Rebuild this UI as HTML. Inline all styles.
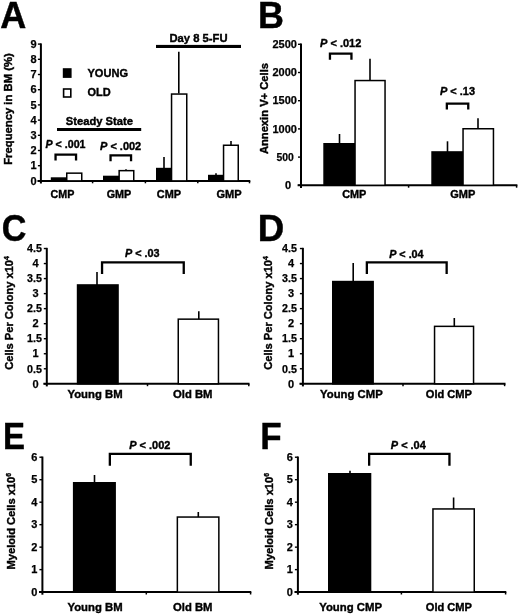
<!DOCTYPE html>
<html><head><meta charset="utf-8"><title>Figure</title>
<style>
html,body{margin:0;padding:0;background:#fff;}
body{width:520px;height:615px;overflow:hidden;}
svg{display:block;will-change:transform;}
text{font-family:"Liberation Sans",sans-serif;font-weight:bold;fill:#000;stroke:#000;stroke-width:0.4px;}
</style></head><body>
<svg width="520" height="615" viewBox="0 0 520 615">
<rect width="520" height="615" fill="#fff"/>

<g id="A">
<text transform="translate(0.302,28.100) scale(0.36071,0.36919)" font-size="100" style="stroke:#000;stroke-width:1.2px">A</text>
<line x1="40.9" y1="43.40000000000002" x2="40.9" y2="183.5" stroke="#000" stroke-width="2.0" stroke-linecap="butt"/>
<line x1="37.9" y1="180.9" x2="40.9" y2="180.9" stroke="#000" stroke-width="1.4" stroke-linecap="butt"/>
<text x="33.5" y="184.65" text-anchor="middle" font-size="11.0" style="stroke-width:0.25px">0</text>
<line x1="37.9" y1="165.70000000000002" x2="40.9" y2="165.70000000000002" stroke="#000" stroke-width="1.4" stroke-linecap="butt"/>
<text x="33.5" y="169.45" text-anchor="middle" font-size="11.0" style="stroke-width:0.25px">1</text>
<line x1="37.9" y1="150.5" x2="40.9" y2="150.5" stroke="#000" stroke-width="1.4" stroke-linecap="butt"/>
<text x="33.5" y="154.25" text-anchor="middle" font-size="11.0" style="stroke-width:0.25px">2</text>
<line x1="37.9" y1="135.3" x2="40.9" y2="135.3" stroke="#000" stroke-width="1.4" stroke-linecap="butt"/>
<text x="33.5" y="139.05" text-anchor="middle" font-size="11.0" style="stroke-width:0.25px">3</text>
<line x1="37.9" y1="120.10000000000001" x2="40.9" y2="120.10000000000001" stroke="#000" stroke-width="1.4" stroke-linecap="butt"/>
<text x="33.5" y="123.85" text-anchor="middle" font-size="11.0" style="stroke-width:0.25px">4</text>
<line x1="37.9" y1="104.9" x2="40.9" y2="104.9" stroke="#000" stroke-width="1.4" stroke-linecap="butt"/>
<text x="33.5" y="108.65" text-anchor="middle" font-size="11.0" style="stroke-width:0.25px">5</text>
<line x1="37.9" y1="89.70000000000002" x2="40.9" y2="89.70000000000002" stroke="#000" stroke-width="1.4" stroke-linecap="butt"/>
<text x="33.5" y="93.45" text-anchor="middle" font-size="11.0" style="stroke-width:0.25px">6</text>
<line x1="37.9" y1="74.50000000000001" x2="40.9" y2="74.50000000000001" stroke="#000" stroke-width="1.4" stroke-linecap="butt"/>
<text x="33.5" y="78.25" text-anchor="middle" font-size="11.0" style="stroke-width:0.25px">7</text>
<line x1="37.9" y1="59.30000000000001" x2="40.9" y2="59.30000000000001" stroke="#000" stroke-width="1.4" stroke-linecap="butt"/>
<text x="33.5" y="63.05" text-anchor="middle" font-size="11.0" style="stroke-width:0.25px">8</text>
<line x1="37.9" y1="44.10000000000002" x2="40.9" y2="44.10000000000002" stroke="#000" stroke-width="1.4" stroke-linecap="butt"/>
<text x="33.5" y="47.85" text-anchor="middle" font-size="11.0" style="stroke-width:0.25px">9</text>
<line x1="37.5" y1="180.9" x2="250.3" y2="180.9" stroke="#000" stroke-width="2.0" stroke-linecap="butt"/>
<line x1="92.6" y1="180.9" x2="92.6" y2="183.3" stroke="#000" stroke-width="1.5" stroke-linecap="butt"/>
<line x1="145.4" y1="180.9" x2="145.4" y2="183.3" stroke="#000" stroke-width="1.5" stroke-linecap="butt"/>
<line x1="197.8" y1="180.9" x2="197.8" y2="183.3" stroke="#000" stroke-width="1.5" stroke-linecap="butt"/>
<line x1="249.5" y1="180.9" x2="249.5" y2="183.3" stroke="#000" stroke-width="1.5" stroke-linecap="butt"/>
<text transform="translate(11.7,164.8) rotate(-90)" font-size="11.4" textLength="111.5" lengthAdjust="spacingAndGlyphs">Frequency in BM (%)</text>
<rect x="62.8" y="68.2" width="8.8" height="9.7" fill="#000"/>
<rect x="63.6" y="89.0" width="7.2" height="8.0" fill="#fff" stroke="#000" stroke-width="1.6"/>
<text x="87.5" y="76.8" text-anchor="start" font-size="11.4" textLength="40.5" lengthAdjust="spacingAndGlyphs" >YOUNG</text>
<text x="87.5" y="96.4" text-anchor="start" font-size="11.4" textLength="23.2" lengthAdjust="spacingAndGlyphs" >OLD</text>
<text x="65.8" y="125" text-anchor="start" font-size="11.4" textLength="67.2" lengthAdjust="spacingAndGlyphs" >Steady State</text>
<rect x="57" y="128" width="84.2" height="3" fill="#000"/>
<text x="45.5" y="147.6" font-size="11.4" textLength="40.0" lengthAdjust="spacingAndGlyphs"><tspan font-style="italic">P</tspan> &lt; .001</text>
<text x="100" y="149.8" font-size="11.4" textLength="41.19999999999999" lengthAdjust="spacingAndGlyphs"><tspan font-style="italic">P</tspan> &lt; .002</text>
<path d="M55.55 160.6 L55.55 154.65 L76.05 154.65 L76.05 160.6" fill="none" stroke="#000" stroke-width="2.3" stroke-linejoin="miter"/>
<path d="M110.55000000000001 161.3 L110.55000000000001 155.35 L131.04999999999998 155.35 L131.04999999999998 161.3" fill="none" stroke="#000" stroke-width="2.3" stroke-linejoin="miter"/>
<rect x="51.55" y="178.05" width="14.700000000000003" height="2.8499999999999943" fill="#000" stroke="#000" stroke-width="1.5"/>
<rect x="66.75" y="173.15" width="15.0" height="7.75" fill="#fff" stroke="#000" stroke-width="1.5"/>
<rect x="103.75" y="176.45" width="14.5" height="4.450000000000017" fill="#000" stroke="#000" stroke-width="1.5"/>
<rect x="119.15" y="170.65" width="14.599999999999994" height="10.25" fill="#fff" stroke="#000" stroke-width="1.5"/>
<line x1="126" y1="169.2" x2="126" y2="170.5" stroke="#000" stroke-width="1.6" stroke-linecap="butt"/>
<text x="169.5" y="42" text-anchor="start" font-size="11.4" textLength="58" lengthAdjust="spacingAndGlyphs" >Day 8 5-FU</text>
<rect x="156" y="44.9" width="85" height="3.1" fill="#000"/>
<line x1="164" y1="157" x2="164" y2="168" stroke="#000" stroke-width="1.6" stroke-linecap="butt"/>
<rect x="156.75" y="168.55" width="14.0" height="12.349999999999994" fill="#000" stroke="#000" stroke-width="1.5"/>
<line x1="178.8" y1="51.7" x2="178.8" y2="93.5" stroke="#000" stroke-width="1.6" stroke-linecap="butt"/>
<rect x="171.55" y="94.05" width="15.199999999999989" height="86.85000000000001" fill="#fff" stroke="#000" stroke-width="1.5"/>
<line x1="216" y1="173.2" x2="216" y2="175" stroke="#000" stroke-width="1.6" stroke-linecap="butt"/>
<rect x="208.75" y="175.55" width="14.0" height="5.349999999999994" fill="#000" stroke="#000" stroke-width="1.5"/>
<line x1="231" y1="141" x2="231" y2="145" stroke="#000" stroke-width="1.6" stroke-linecap="butt"/>
<rect x="223.55" y="145.25" width="14.699999999999989" height="35.650000000000006" fill="#fff" stroke="#000" stroke-width="1.5"/>
<text x="50.5" y="198.2" text-anchor="start" font-size="11.4" textLength="23.8" lengthAdjust="spacingAndGlyphs" >CMP</text>
<text x="106.7" y="198.2" text-anchor="start" font-size="11.4" textLength="24.6" lengthAdjust="spacingAndGlyphs" >GMP</text>
<text x="156.8" y="198.2" text-anchor="start" font-size="11.4" textLength="24.3" lengthAdjust="spacingAndGlyphs" >CMP</text>
<text x="216.4" y="198.2" text-anchor="start" font-size="11.4" textLength="25.2" lengthAdjust="spacingAndGlyphs" >GMP</text>
</g>
<g id="B">
<text transform="translate(257.998,28.100) scale(0.35910,0.36919)" font-size="100" style="stroke:#000;stroke-width:1.2px">B</text>
<line x1="301.0" y1="43.60000000000001" x2="301.0" y2="187.9" stroke="#000" stroke-width="2.0" stroke-linecap="butt"/>
<line x1="298.0" y1="185.3" x2="301.0" y2="185.3" stroke="#000" stroke-width="1.4" stroke-linecap="butt"/>
<text x="288" y="189.05" text-anchor="middle" font-size="11.0" style="stroke-width:0.25px">0</text>
<line x1="298.0" y1="157.10000000000002" x2="301.0" y2="157.10000000000002" stroke="#000" stroke-width="1.4" stroke-linecap="butt"/>
<text x="276.5" y="160.85" text-anchor="start" font-size="11.0" textLength="17.3" lengthAdjust="spacingAndGlyphs" style="stroke-width:0.25px">500</text>
<line x1="298.0" y1="128.9" x2="301.0" y2="128.9" stroke="#000" stroke-width="1.4" stroke-linecap="butt"/>
<text x="296.9" y="132.65" text-anchor="end" font-size="11.0" style="stroke-width:0.25px">1000</text>
<line x1="298.0" y1="100.70000000000002" x2="301.0" y2="100.70000000000002" stroke="#000" stroke-width="1.4" stroke-linecap="butt"/>
<text x="296.9" y="104.45" text-anchor="end" font-size="11.0" style="stroke-width:0.25px">1500</text>
<line x1="298.0" y1="72.50000000000001" x2="301.0" y2="72.50000000000001" stroke="#000" stroke-width="1.4" stroke-linecap="butt"/>
<text x="296.9" y="76.25" text-anchor="end" font-size="11.0" style="stroke-width:0.25px">2000</text>
<line x1="298.0" y1="44.30000000000001" x2="301.0" y2="44.30000000000001" stroke="#000" stroke-width="1.4" stroke-linecap="butt"/>
<text x="296.9" y="48.05" text-anchor="end" font-size="11.0" style="stroke-width:0.25px">2500</text>
<line x1="297.6" y1="185.3" x2="517.4" y2="185.3" stroke="#000" stroke-width="2.0" stroke-linecap="butt"/>
<line x1="408.6" y1="185.3" x2="408.6" y2="187.70000000000002" stroke="#000" stroke-width="1.5" stroke-linecap="butt"/>
<line x1="516.6" y1="185.3" x2="516.6" y2="187.70000000000002" stroke="#000" stroke-width="1.5" stroke-linecap="butt"/>
<text transform="translate(268.1,154.1) rotate(-90)" font-size="11.4" textLength="91.1" lengthAdjust="spacingAndGlyphs">Annexin V+ Cells</text>
<text x="320" y="47" font-size="11.4" textLength="41.30000000000001" lengthAdjust="spacingAndGlyphs"><tspan font-style="italic">P</tspan> &lt; .012</text>
<path d="M329.95 59.8 L329.95 53.55 L351.45000000000005 53.55 L351.45000000000005 59.8" fill="none" stroke="#000" stroke-width="2.3" stroke-linejoin="miter"/>
<line x1="339.5" y1="134" x2="339.5" y2="144" stroke="#000" stroke-width="1.6" stroke-linecap="butt"/>
<rect x="324.05" y="143.75" width="30.19999999999999" height="41.55000000000001" fill="#000" stroke="#000" stroke-width="1.5"/>
<line x1="370" y1="58.8" x2="370" y2="81" stroke="#000" stroke-width="1.6" stroke-linecap="butt"/>
<rect x="355.05" y="80.55" width="30.0" height="104.75000000000001" fill="#fff" stroke="#000" stroke-width="1.5"/>
<text x="440" y="95" font-size="11.4" textLength="35" lengthAdjust="spacingAndGlyphs"><tspan font-style="italic">P</tspan> &lt; .13</text>
<path d="M446.84999999999997 109.4 L446.84999999999997 103.55000000000001 L468.25 103.55000000000001 L468.25 109.4" fill="none" stroke="#000" stroke-width="2.3" stroke-linejoin="miter"/>
<line x1="447.5" y1="141.3" x2="447.5" y2="152" stroke="#000" stroke-width="1.6" stroke-linecap="butt"/>
<rect x="432.05" y="151.95" width="30.19999999999999" height="33.35000000000002" fill="#000" stroke="#000" stroke-width="1.5"/>
<line x1="478" y1="118.3" x2="478" y2="128.5" stroke="#000" stroke-width="1.6" stroke-linecap="butt"/>
<rect x="463.05" y="128.75" width="30.399999999999977" height="56.55000000000001" fill="#fff" stroke="#000" stroke-width="1.5"/>
<text x="342.2" y="198.0" text-anchor="start" font-size="11.4" textLength="24.2" lengthAdjust="spacingAndGlyphs" >CMP</text>
<text x="450.2" y="198.2" text-anchor="start" font-size="11.4" textLength="25.1" lengthAdjust="spacingAndGlyphs" >GMP</text>
</g>
<g id="C">
<text transform="translate(1.701,241.134) scale(0.34108,0.37429)" font-size="100" style="stroke:#000;stroke-width:1.2px">C</text>
<line x1="46.8" y1="247.83000000000004" x2="46.8" y2="386.40000000000003" stroke="#000" stroke-width="2.0" stroke-linecap="butt"/>
<line x1="43.8" y1="383.8" x2="46.8" y2="383.8" stroke="#000" stroke-width="1.4" stroke-linecap="butt"/>
<text x="35.5" y="387.55" text-anchor="middle" font-size="11.0" style="stroke-width:0.25px">0</text>
<line x1="43.8" y1="368.77000000000004" x2="46.8" y2="368.77000000000004" stroke="#000" stroke-width="1.4" stroke-linecap="butt"/>
<text x="27.0" y="372.52" text-anchor="start" font-size="11.0" textLength="14.9" lengthAdjust="spacingAndGlyphs" style="stroke-width:0.25px">0.5</text>
<line x1="43.8" y1="353.74" x2="46.8" y2="353.74" stroke="#000" stroke-width="1.4" stroke-linecap="butt"/>
<text x="35.5" y="357.49" text-anchor="middle" font-size="11.0" style="stroke-width:0.25px">1</text>
<line x1="43.8" y1="338.71000000000004" x2="46.8" y2="338.71000000000004" stroke="#000" stroke-width="1.4" stroke-linecap="butt"/>
<text x="27.0" y="342.46" text-anchor="start" font-size="11.0" textLength="14.9" lengthAdjust="spacingAndGlyphs" style="stroke-width:0.25px">1.5</text>
<line x1="43.8" y1="323.68" x2="46.8" y2="323.68" stroke="#000" stroke-width="1.4" stroke-linecap="butt"/>
<text x="35.5" y="327.43" text-anchor="middle" font-size="11.0" style="stroke-width:0.25px">2</text>
<line x1="43.8" y1="308.65000000000003" x2="46.8" y2="308.65000000000003" stroke="#000" stroke-width="1.4" stroke-linecap="butt"/>
<text x="27.0" y="312.40" text-anchor="start" font-size="11.0" textLength="14.9" lengthAdjust="spacingAndGlyphs" style="stroke-width:0.25px">2.5</text>
<line x1="43.8" y1="293.62" x2="46.8" y2="293.62" stroke="#000" stroke-width="1.4" stroke-linecap="butt"/>
<text x="35.5" y="297.37" text-anchor="middle" font-size="11.0" style="stroke-width:0.25px">3</text>
<line x1="43.8" y1="278.59000000000003" x2="46.8" y2="278.59000000000003" stroke="#000" stroke-width="1.4" stroke-linecap="butt"/>
<text x="27.0" y="282.34" text-anchor="start" font-size="11.0" textLength="14.9" lengthAdjust="spacingAndGlyphs" style="stroke-width:0.25px">3.5</text>
<line x1="43.8" y1="263.56" x2="46.8" y2="263.56" stroke="#000" stroke-width="1.4" stroke-linecap="butt"/>
<text x="35.5" y="267.31" text-anchor="middle" font-size="11.0" style="stroke-width:0.25px">4</text>
<line x1="43.8" y1="248.53000000000003" x2="46.8" y2="248.53000000000003" stroke="#000" stroke-width="1.4" stroke-linecap="butt"/>
<text x="27.0" y="252.28" text-anchor="start" font-size="11.0" textLength="14.9" lengthAdjust="spacingAndGlyphs" style="stroke-width:0.25px">4.5</text>
<line x1="43.4" y1="383.8" x2="249.5" y2="383.8" stroke="#000" stroke-width="2.0" stroke-linecap="butt"/>
<line x1="147.5" y1="383.8" x2="147.5" y2="386.2" stroke="#000" stroke-width="1.5" stroke-linecap="butt"/>
<line x1="248.8" y1="383.8" x2="248.8" y2="386.2" stroke="#000" stroke-width="1.5" stroke-linecap="butt"/>
<text transform="translate(13.0,369.8) rotate(-90)" font-size="11.4" textLength="113.6" lengthAdjust="spacingAndGlyphs">Cells Per Colony x10<tspan font-size="7" dy="-3.8">4</tspan></text>
<text x="125" y="257.3" font-size="11.4" textLength="34.599999999999994" lengthAdjust="spacingAndGlyphs"><tspan font-style="italic">P</tspan> &lt; .03</text>
<path d="M102.05000000000001 274.0 L102.05000000000001 262.45 L183.75 262.45 L183.75 274.0" fill="none" stroke="#000" stroke-width="2.3" stroke-linejoin="miter"/>
<line x1="97.0" y1="272" x2="97.0" y2="285" stroke="#000" stroke-width="1.6" stroke-linecap="butt"/>
<rect x="77.55" y="284.95" width="40.5" height="98.85000000000002" fill="#000" stroke="#000" stroke-width="1.5"/>
<line x1="198.8" y1="311.2" x2="198.8" y2="319" stroke="#000" stroke-width="1.6" stroke-linecap="butt"/>
<rect x="178.25" y="319.15" width="40.19999999999999" height="64.65000000000003" fill="#fff" stroke="#000" stroke-width="1.5"/>
<text x="67.5" y="397.6" text-anchor="start" font-size="11.4" textLength="55.1" lengthAdjust="spacingAndGlyphs" >Young BM</text>
<text x="173" y="397.6" text-anchor="start" font-size="11.4" textLength="39.5" lengthAdjust="spacingAndGlyphs" >Old BM</text>
</g>
<g id="D">
<text transform="translate(257.746,241.200) scale(0.36688,0.37501)" font-size="100" style="stroke:#000;stroke-width:1.2px">D</text>
<line x1="302.9" y1="247.83000000000004" x2="302.9" y2="386.40000000000003" stroke="#000" stroke-width="2.0" stroke-linecap="butt"/>
<line x1="299.9" y1="383.8" x2="302.9" y2="383.8" stroke="#000" stroke-width="1.4" stroke-linecap="butt"/>
<text x="291.0" y="387.55" text-anchor="middle" font-size="11.0" style="stroke-width:0.25px">0</text>
<line x1="299.9" y1="368.77000000000004" x2="302.9" y2="368.77000000000004" stroke="#000" stroke-width="1.4" stroke-linecap="butt"/>
<text x="282.0" y="372.52" text-anchor="start" font-size="11.0" textLength="14.9" lengthAdjust="spacingAndGlyphs" style="stroke-width:0.25px">0.5</text>
<line x1="299.9" y1="353.74" x2="302.9" y2="353.74" stroke="#000" stroke-width="1.4" stroke-linecap="butt"/>
<text x="291.0" y="357.49" text-anchor="middle" font-size="11.0" style="stroke-width:0.25px">1</text>
<line x1="299.9" y1="338.71000000000004" x2="302.9" y2="338.71000000000004" stroke="#000" stroke-width="1.4" stroke-linecap="butt"/>
<text x="282.0" y="342.46" text-anchor="start" font-size="11.0" textLength="14.9" lengthAdjust="spacingAndGlyphs" style="stroke-width:0.25px">1.5</text>
<line x1="299.9" y1="323.68" x2="302.9" y2="323.68" stroke="#000" stroke-width="1.4" stroke-linecap="butt"/>
<text x="291.0" y="327.43" text-anchor="middle" font-size="11.0" style="stroke-width:0.25px">2</text>
<line x1="299.9" y1="308.65000000000003" x2="302.9" y2="308.65000000000003" stroke="#000" stroke-width="1.4" stroke-linecap="butt"/>
<text x="282.0" y="312.40" text-anchor="start" font-size="11.0" textLength="14.9" lengthAdjust="spacingAndGlyphs" style="stroke-width:0.25px">2.5</text>
<line x1="299.9" y1="293.62" x2="302.9" y2="293.62" stroke="#000" stroke-width="1.4" stroke-linecap="butt"/>
<text x="291.0" y="297.37" text-anchor="middle" font-size="11.0" style="stroke-width:0.25px">3</text>
<line x1="299.9" y1="278.59000000000003" x2="302.9" y2="278.59000000000003" stroke="#000" stroke-width="1.4" stroke-linecap="butt"/>
<text x="282.0" y="282.34" text-anchor="start" font-size="11.0" textLength="14.9" lengthAdjust="spacingAndGlyphs" style="stroke-width:0.25px">3.5</text>
<line x1="299.9" y1="263.56" x2="302.9" y2="263.56" stroke="#000" stroke-width="1.4" stroke-linecap="butt"/>
<text x="291.0" y="267.31" text-anchor="middle" font-size="11.0" style="stroke-width:0.25px">4</text>
<line x1="299.9" y1="248.53000000000003" x2="302.9" y2="248.53000000000003" stroke="#000" stroke-width="1.4" stroke-linecap="butt"/>
<text x="282.0" y="252.28" text-anchor="start" font-size="11.0" textLength="14.9" lengthAdjust="spacingAndGlyphs" style="stroke-width:0.25px">4.5</text>
<line x1="299.5" y1="383.8" x2="505.5" y2="383.8" stroke="#000" stroke-width="2.0" stroke-linecap="butt"/>
<line x1="403" y1="383.8" x2="403" y2="386.2" stroke="#000" stroke-width="1.5" stroke-linecap="butt"/>
<line x1="504.6" y1="383.8" x2="504.6" y2="386.2" stroke="#000" stroke-width="1.5" stroke-linecap="butt"/>
<text transform="translate(271.5,369.8) rotate(-90)" font-size="11.4" textLength="113.6" lengthAdjust="spacingAndGlyphs">Cells Per Colony x10<tspan font-size="7" dy="-3.8">4</tspan></text>
<text x="389.2" y="257.6" font-size="11.4" textLength="34.400000000000034" lengthAdjust="spacingAndGlyphs"><tspan font-style="italic">P</tspan> &lt; .04</text>
<path d="M366.84999999999997 274.0 L366.84999999999997 262.45 L446.65000000000003 262.45 L446.65000000000003 274.0" fill="none" stroke="#000" stroke-width="2.3" stroke-linejoin="miter"/>
<line x1="353.2" y1="263" x2="353.2" y2="281.5" stroke="#000" stroke-width="1.6" stroke-linecap="butt"/>
<rect x="332.75" y="281.55" width="40.39999999999998" height="102.25" fill="#000" stroke="#000" stroke-width="1.5"/>
<line x1="454.3" y1="318" x2="454.3" y2="326" stroke="#000" stroke-width="1.6" stroke-linecap="butt"/>
<rect x="434.55" y="326.35" width="39.0" height="57.44999999999999" fill="#fff" stroke="#000" stroke-width="1.5"/>
<text x="320.1" y="397.6" text-anchor="start" font-size="11.4" textLength="62.6" lengthAdjust="spacingAndGlyphs" >Young CMP</text>
<text x="425.8" y="397.6" text-anchor="start" font-size="11.4" textLength="46.2" lengthAdjust="spacingAndGlyphs" >Old CMP</text>
</g>
<g id="E">
<text transform="translate(2.994,448.700) scale(0.32975,0.37065)" font-size="100" style="stroke:#000;stroke-width:1.2px">E</text>
<line x1="42.4" y1="456.52000000000004" x2="42.4" y2="594.7" stroke="#000" stroke-width="2.0" stroke-linecap="butt"/>
<line x1="39.4" y1="592.1" x2="42.4" y2="592.1" stroke="#000" stroke-width="1.4" stroke-linecap="butt"/>
<text x="34.3" y="595.85" text-anchor="middle" font-size="11.0" style="stroke-width:0.25px">0</text>
<line x1="39.4" y1="569.62" x2="42.4" y2="569.62" stroke="#000" stroke-width="1.4" stroke-linecap="butt"/>
<text x="34.3" y="573.37" text-anchor="middle" font-size="11.0" style="stroke-width:0.25px">1</text>
<line x1="39.4" y1="547.14" x2="42.4" y2="547.14" stroke="#000" stroke-width="1.4" stroke-linecap="butt"/>
<text x="34.3" y="550.89" text-anchor="middle" font-size="11.0" style="stroke-width:0.25px">2</text>
<line x1="39.4" y1="524.6600000000001" x2="42.4" y2="524.6600000000001" stroke="#000" stroke-width="1.4" stroke-linecap="butt"/>
<text x="34.3" y="528.41" text-anchor="middle" font-size="11.0" style="stroke-width:0.25px">3</text>
<line x1="39.4" y1="502.18" x2="42.4" y2="502.18" stroke="#000" stroke-width="1.4" stroke-linecap="butt"/>
<text x="34.3" y="505.93" text-anchor="middle" font-size="11.0" style="stroke-width:0.25px">4</text>
<line x1="39.4" y1="479.70000000000005" x2="42.4" y2="479.70000000000005" stroke="#000" stroke-width="1.4" stroke-linecap="butt"/>
<text x="34.3" y="483.45" text-anchor="middle" font-size="11.0" style="stroke-width:0.25px">5</text>
<line x1="39.4" y1="457.22" x2="42.4" y2="457.22" stroke="#000" stroke-width="1.4" stroke-linecap="butt"/>
<text x="34.3" y="460.97" text-anchor="middle" font-size="11.0" style="stroke-width:0.25px">6</text>
<line x1="39.0" y1="592.1" x2="251.3" y2="592.1" stroke="#000" stroke-width="2.0" stroke-linecap="butt"/>
<line x1="146.3" y1="592.1" x2="146.3" y2="594.5" stroke="#000" stroke-width="1.5" stroke-linecap="butt"/>
<line x1="250.6" y1="592.1" x2="250.6" y2="594.5" stroke="#000" stroke-width="1.5" stroke-linecap="butt"/>
<text transform="translate(14.8,569.4) rotate(-90)" font-size="11.4" textLength="96.5" lengthAdjust="spacingAndGlyphs">Myeloid Cells x10<tspan font-size="7" dy="-3.8">6</tspan></text>
<text x="129.2" y="449.0" font-size="11.4" textLength="41.20000000000002" lengthAdjust="spacingAndGlyphs"><tspan font-style="italic">P</tspan> &lt; .002</text>
<path d="M109.85000000000001 465.8 L109.85000000000001 453.84999999999997 L190.75 453.84999999999997 L190.75 465.8" fill="none" stroke="#000" stroke-width="2.3" stroke-linejoin="miter"/>
<line x1="94.5" y1="475" x2="94.5" y2="483" stroke="#000" stroke-width="1.6" stroke-linecap="butt"/>
<rect x="73.65" y="482.75" width="41.5" height="109.35000000000002" fill="#000" stroke="#000" stroke-width="1.5"/>
<line x1="198.3" y1="512" x2="198.3" y2="517" stroke="#000" stroke-width="1.6" stroke-linecap="butt"/>
<rect x="177.35" y="517.05" width="41.5" height="75.05000000000007" fill="#fff" stroke="#000" stroke-width="1.5"/>
<text x="67.5" y="610.8" text-anchor="start" font-size="11.4" textLength="55.1" lengthAdjust="spacingAndGlyphs" >Young BM</text>
<text x="173" y="610.8" text-anchor="start" font-size="11.4" textLength="39.5" lengthAdjust="spacingAndGlyphs" >Old BM</text>
</g>
<g id="F">
<text transform="translate(260.353,448.800) scale(0.35086,0.37355)" font-size="100" style="stroke:#000;stroke-width:1.2px">F</text>
<line x1="297.9" y1="456.52000000000004" x2="297.9" y2="594.7" stroke="#000" stroke-width="2.0" stroke-linecap="butt"/>
<line x1="294.9" y1="592.1" x2="297.9" y2="592.1" stroke="#000" stroke-width="1.4" stroke-linecap="butt"/>
<text x="289.7" y="595.85" text-anchor="middle" font-size="11.0" style="stroke-width:0.25px">0</text>
<line x1="294.9" y1="569.62" x2="297.9" y2="569.62" stroke="#000" stroke-width="1.4" stroke-linecap="butt"/>
<text x="289.7" y="573.37" text-anchor="middle" font-size="11.0" style="stroke-width:0.25px">1</text>
<line x1="294.9" y1="547.14" x2="297.9" y2="547.14" stroke="#000" stroke-width="1.4" stroke-linecap="butt"/>
<text x="289.7" y="550.89" text-anchor="middle" font-size="11.0" style="stroke-width:0.25px">2</text>
<line x1="294.9" y1="524.6600000000001" x2="297.9" y2="524.6600000000001" stroke="#000" stroke-width="1.4" stroke-linecap="butt"/>
<text x="289.7" y="528.41" text-anchor="middle" font-size="11.0" style="stroke-width:0.25px">3</text>
<line x1="294.9" y1="502.18" x2="297.9" y2="502.18" stroke="#000" stroke-width="1.4" stroke-linecap="butt"/>
<text x="289.7" y="505.93" text-anchor="middle" font-size="11.0" style="stroke-width:0.25px">4</text>
<line x1="294.9" y1="479.70000000000005" x2="297.9" y2="479.70000000000005" stroke="#000" stroke-width="1.4" stroke-linecap="butt"/>
<text x="289.7" y="483.45" text-anchor="middle" font-size="11.0" style="stroke-width:0.25px">5</text>
<line x1="294.9" y1="457.22" x2="297.9" y2="457.22" stroke="#000" stroke-width="1.4" stroke-linecap="butt"/>
<text x="289.7" y="460.97" text-anchor="middle" font-size="11.0" style="stroke-width:0.25px">6</text>
<line x1="294.5" y1="592.1" x2="506.3" y2="592.1" stroke="#000" stroke-width="2.0" stroke-linecap="butt"/>
<line x1="401.4" y1="592.1" x2="401.4" y2="594.5" stroke="#000" stroke-width="1.5" stroke-linecap="butt"/>
<line x1="505.6" y1="592.1" x2="505.6" y2="594.5" stroke="#000" stroke-width="1.5" stroke-linecap="butt"/>
<text transform="translate(273.1,569.5) rotate(-90)" font-size="11.4" textLength="96.5" lengthAdjust="spacingAndGlyphs">Myeloid Cells x10<tspan font-size="7" dy="-3.8">6</tspan></text>
<text x="390.8" y="449.0" font-size="11.4" textLength="35.0" lengthAdjust="spacingAndGlyphs"><tspan font-style="italic">P</tspan> &lt; .04</text>
<path d="M369.15 465.8 L369.15 453.84999999999997 L449.45000000000005 453.84999999999997 L449.45000000000005 465.8" fill="none" stroke="#000" stroke-width="2.3" stroke-linejoin="miter"/>
<line x1="350" y1="470.8" x2="350" y2="474" stroke="#000" stroke-width="1.6" stroke-linecap="butt"/>
<rect x="328.75" y="473.75" width="41.80000000000001" height="118.35000000000002" fill="#000" stroke="#000" stroke-width="1.5"/>
<line x1="453.6" y1="497.5" x2="453.6" y2="509.5" stroke="#000" stroke-width="1.6" stroke-linecap="butt"/>
<rect x="432.95" y="508.95" width="41.30000000000001" height="83.15000000000003" fill="#fff" stroke="#000" stroke-width="1.5"/>
<text x="319.2" y="610.8" text-anchor="start" font-size="11.4" textLength="62.8" lengthAdjust="spacingAndGlyphs" >Young CMP</text>
<text x="425.8" y="610.8" text-anchor="start" font-size="11.4" textLength="46.2" lengthAdjust="spacingAndGlyphs" >Old CMP</text>
</g>
</svg>
</body></html>
